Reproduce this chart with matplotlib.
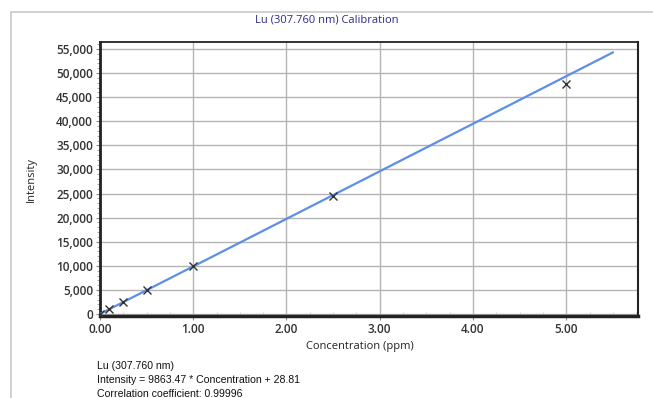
# Courbe d'étalonnage Lu (307.760 nm)

import matplotlib.pyplot as plt
from matplotlib.patches import Rectangle
from matplotlib.ticker import MultipleLocator, FuncFormatter

# Données
concentration = [0.0, 0.1, 0.25, 0.5, 1.0, 2.5, 5.0]
intensity = [30, 990, 2480, 4950, 9950, 24400, 47800]
slope = 9863.47
intercept = 28.81
fit_end = 5.5

title = "Lu (307.760 nm) Calibration"
info_lines = [
    "Lu (307.760 nm)",
    "Intensity = 9863.47 * Concentration + 28.81",
    "Correlation coefficient: 0.99996",
]


def main():
    fig = plt.figure(figsize=(6.53, 3.98), dpi=100)

    # Cadre gris extérieur
    fig.patches.append(Rectangle((11 / 653, -0.2), 1.2, 0.2 + 1 - 12 / 398,
                                 transform=fig.transFigure, fill=False,
                                 edgecolor="#c8c8c8", linewidth=1.2))

    ax = fig.add_axes([100 / 653, 1 - 316 / 398, 538 / 653, 274 / 398])

    xs = [0, fit_end]
    ys = [slope * x + intercept for x in xs]
    ax.plot(xs, ys, color="#5b8fe8", linewidth=1.6, zorder=3)
    ax.plot(concentration, intensity, linestyle="none", marker="x",
            markersize=6, markeredgewidth=1.0, color="#333333", zorder=4)

    ax.set_xlim(0, 5.77)
    ax.set_ylim(-400, 56450)

    ax.xaxis.set_major_locator(MultipleLocator(1))
    ax.xaxis.set_minor_locator(MultipleLocator(0.25))
    ax.yaxis.set_major_locator(MultipleLocator(5000))
    ax.yaxis.set_minor_locator(MultipleLocator(1000))
    ax.xaxis.set_major_formatter(FuncFormatter(lambda v, p: f"{v:.2f}"))
    ax.yaxis.set_major_formatter(FuncFormatter(lambda v, p: f"{v:,.0f}"))

    ax.grid(True, which="major", color="#b4b4b4", linewidth=1.0)
    ax.set_axisbelow(True)

    ax.tick_params(which="major", length=3, width=0.8, color="#888888",
                   labelsize=8.5, labelcolor="#333333", pad=2)
    ax.tick_params(axis="x", which="minor", direction="in", length=3,
                   width=0.6, color="#cccccc")
    ax.tick_params(axis="y", which="minor", direction="out", length=2,
                   width=0.6, color="#999999")
    for lab in ax.get_xticklabels() + ax.get_yticklabels():
        lab.set_fontfamily("Open Sans")
        lab.set_fontweight("semibold")

    ax.spines["bottom"].set_linewidth(2.5)
    ax.spines["left"].set_linewidth(2.0)
    ax.spines["top"].set_linewidth(1.3)
    ax.spines["right"].set_linewidth(1.5)
    for s in ax.spines.values():
        s.set_color("#222222")

    fig.text(327 / 653, 1 - 20 / 398, title, ha="center", va="center",
             fontsize=8, color="#2a2a8c", family="Open Sans")
    fig.text(360 / 653, 1 - 346 / 398, "Concentration (ppm)", ha="center",
             va="center", fontsize=8, color="#222222", family="Open Sans")
    fig.text(31 / 653, 1 - 180 / 398, "Intensity", ha="center", va="center",
             rotation=90, fontsize=8, color="#222222", family="Open Sans")

    for i, line in enumerate(info_lines):
        fig.text(97 / 653, 1 - (366 + 14 * i) / 398, line, ha="left",
                 va="center", fontsize=7.6, color="#111111",
                 family="Liberation Sans")

    fig.savefig("out.png", dpi=100)
    plt.close(fig)


if __name__ == "__main__":
    main()
